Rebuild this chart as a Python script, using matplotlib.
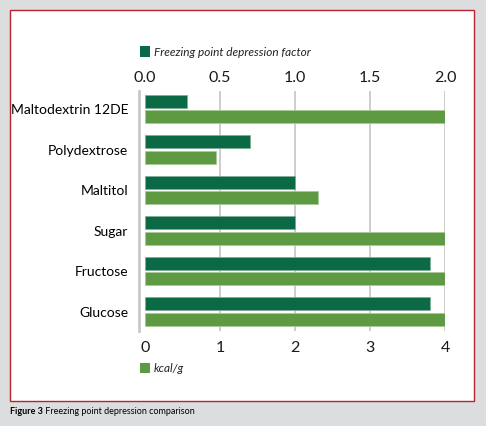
import matplotlib
matplotlib.use("Agg")
import matplotlib.pyplot as plt
from matplotlib.patches import Rectangle
import numpy as np

categories = ["Maltodextrin 12DE", "Polydextrose", "Maltitol", "Sugar", "Fructose", "Glucose"]
fpd_factor = [0.28, 0.70, 1.0, 1.0, 1.9, 1.9]
kcal_per_g = [4.0, 0.95, 2.3, 4.0, 4.0, 4.0]
top_ticks = [0.0, 0.5, 1.0, 1.5, 2.0]
bottom_ticks = [0, 1, 2, 3, 4]

dark = "#0b6a45"
light = "#5e9a42"
grid_c = "#c9c9c9"

plt.rcParams["font.family"] = ["Lato", "DejaVu Sans"]

W, H = 486, 426
fig = plt.figure(figsize=(W / 100, H / 100), dpi=100)
fig.patch.set_facecolor("#dcdddf")

# white panel with red border
fig.patches.append(Rectangle((9.5 / W, 1 - 401 / H), 464.5 / W, 391.5 / H,
                             transform=fig.transFigure, facecolor="white",
                             edgecolor="#b5242c", linewidth=1.0, zorder=-5))

ax = fig.add_axes([145 / W, 1 - 331 / H, 300 / W, 240 / H])
ax.set_facecolor("none")
ax2 = ax.twiny()

y = np.arange(len(categories))
bh = 0.32
ax.barh(y + 0.19, kcal_per_g, height=bh, color=light, edgecolor="#a9c99a",
        linewidth=0.6, zorder=3)
ax2.barh(y - 0.19, fpd_factor, height=bh, color=dark, edgecolor="#7fae98",
         linewidth=0.6, zorder=3)

ax.set_xlim(0, 4)
ax2.set_xlim(0, 2)
ax.set_ylim(5.48, -0.445)

for xv in bottom_ticks[1:]:
    ax.axvline(xv, color=grid_c, linewidth=1.3, zorder=1)

ax.set_yticks(y)
ax.set_yticklabels(categories, fontsize=10.5, color="#1a1a1a")
ax.set_xticks(bottom_ticks)
ax.set_xticklabels([str(t) for t in bottom_ticks], fontsize=11.5, color="#1a1a1a")
ax2.set_xticks(top_ticks)
ax2.set_xticklabels([f"{t:.1f}" for t in top_ticks], fontsize=11.5, color="#1a1a1a")

ax.tick_params(axis="y", length=0, pad=8)
ax.tick_params(axis="x", length=0, pad=7)
ax2.tick_params(axis="x", length=0, pad=4)

for a in (ax, ax2):
    for s in ("top", "right", "bottom"):
        a.spines[s].set_visible(False)
ax2.spines["left"].set_visible(False)
ax.spines["left"].set_position(("outward", 4))
ax.spines["left"].set_color(grid_c)
ax.spines["left"].set_linewidth(2)

# legend entries
fig.patches.append(Rectangle((140 / W, 1 - 57 / H), 10 / W, 11 / H,
                             transform=fig.transFigure, facecolor=dark))
fig.text(154 / W, 1 - 52 / H, "Freezing point depression factor", fontsize=8.5,
         style="italic", va="center", ha="left", color="#222222")
fig.patches.append(Rectangle((140 / W, 1 - 373 / H), 10 / W, 10 / H,
                             transform=fig.transFigure, facecolor=light))
fig.text(154 / W, 1 - 369 / H, "kcal/g", fontsize=8.5,
         style="italic", va="center", ha="left", color="#222222")

# caption
cap = fig.text(10 / W, 1 - 411 / H, "Figure 3", fontsize=6.5, fontweight="bold",
               va="center", ha="left")
plt.annotate(" Freezing point depression comparison", xy=(1, 0.5), xycoords=cap,
             fontsize=6.5, va="center", ha="left", annotation_clip=False)

fig.savefig("out.png", dpi=100)
